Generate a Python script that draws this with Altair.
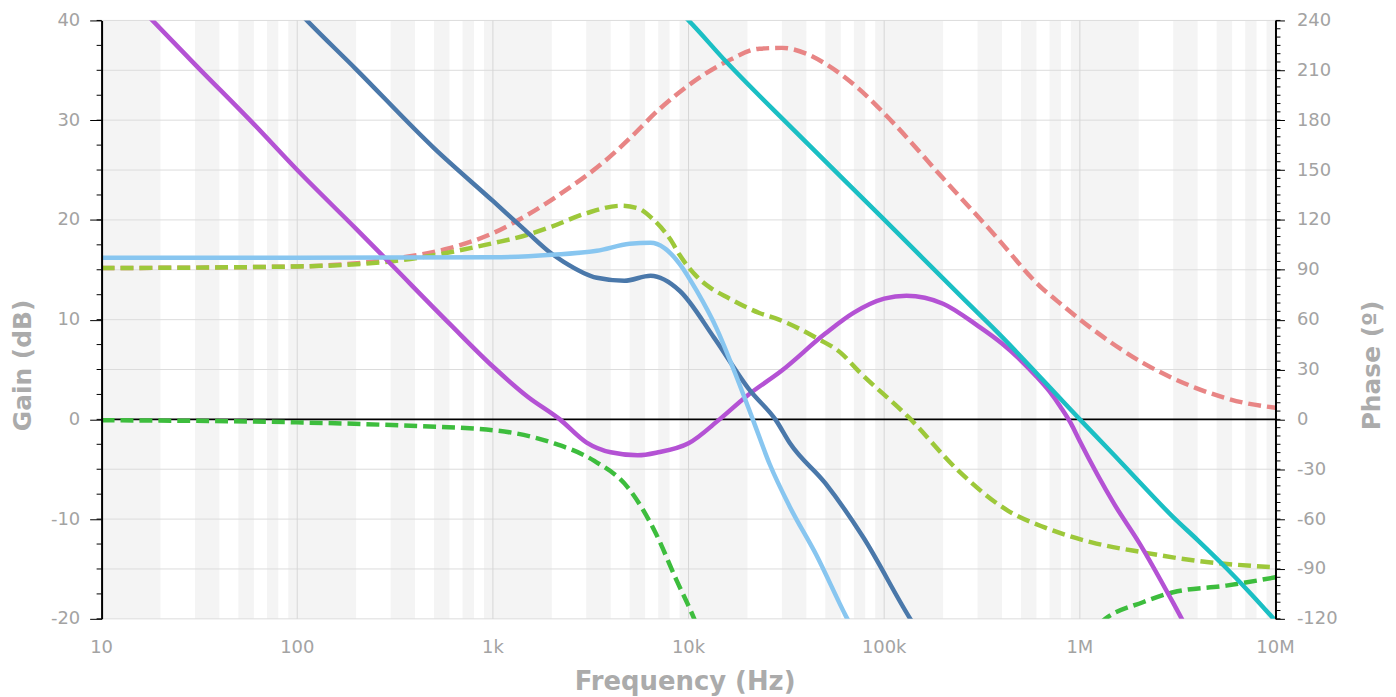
import altair as alt
import pandas as pd

# ---------------- data ----------------
# Gain curves (dB) vs frequency (Hz)
mag_f = [10, 18.2, 30, 60, 100, 200, 300, 600, 1000, 1500, 2200, 3000, 4000, 5500, 7000,
         10000, 14400, 20000, 30000, 50000, 70000, 100000, 130000, 200000, 300000, 400000,
         500000, 600000, 700000, 800000, 900000, 1000000, 1500000, 2000000, 3000000, 4000000]
mag_g = [45.2, 40, 35.6, 29.6, 25.0, 19.1, 15.6, 9.6, 5.3, 2.3, 0, -2.3, -3.3, -3.6, -3.3,
         -2.4, 0, 2.4, 4.9, 8.6, 10.7, 12.1, 12.4, 11.6, 9.4, 7.6,
         5.9, 4.3, 2.8, 1.2, -0.4, -2.2, -8.5, -12.3, -18.4, -23]

dblue_f = [100, 112, 200, 500, 1000, 1455, 2000, 2300, 3400, 4700, 6400, 9000, 13500, 20600,
           28000, 33000, 50000, 78000, 134000, 200000]
dblue_g = [41, 40, 35.1, 27.2, 21.9, 19.0, 16.6, 15.8, 14.2, 13.9, 14.4, 12.9, 8.2, 2.9,
           -0.1, -2.4, -6.4, -11.8, -19.8, -25]

lblue_f = [10, 100, 1000, 2000, 3400, 5000, 6400, 7500, 9000, 11000, 14000, 17000, 21300,
           26000, 33000, 45000, 64000, 90000]
lblue_g = [16.2, 16.2, 16.25, 16.5, 16.9, 17.6, 17.7, 17.2, 15.6, 12.9, 9.0, 5.0, 0,
           -4.5, -8.8, -13.6, -19.8, -25]

cyan_f = [9000, 10000, 15500, 35000, 98000, 260000, 372000, 1000000, 1500000, 2000000,
          3000000, 4000000, 5600000, 7500000, 10000000]
cyan_g = [40.9, 40, 35.9, 28.9, 20.2, 11.9, 8.9, 0, -3.6, -6.2,
          -9.8, -12.1, -14.9, -17.5, -20.2]

# Phase curves (degrees) vs frequency (Hz)
ph1_f = [10, 100, 326, 600, 1000, 1500, 2300, 3700, 5000, 7000, 10000, 15500, 23000, 30000,
         40000, 50000, 74000, 110000, 200000, 360000, 640000, 770000, 1200000, 2100000,
         3900000, 6900000, 10000000]
ph1_p = [91, 92, 97, 103, 112, 123, 137, 155, 169, 186, 201, 215, 223, 223.5,
         220, 214, 199, 179, 145, 112, 79, 71, 53, 34,
         19, 10, 7]

ph2_f = [10, 100, 300, 1000, 1500, 2000, 3000, 4500, 5500, 6500, 8100, 9000, 11000, 13000,
         16000, 23000, 29000, 45000, 60000, 74000, 134000, 240000, 430000, 660000, 1150000,
         2100000, 3900000, 10000000]
ph2_p = [91, 92, 95, 106, 111, 116, 124, 128.5, 127, 121, 108, 99, 86, 79,
         73, 64, 60, 49, 40, 29, 1, -31, -55, -65, -74,
         -80, -85, -89]

ph3_f = [10, 100, 330, 1020, 2000, 3300, 4900, 6700, 8700, 10600, 12000, 30000, 100000,
         400000, 1000000, 1350000, 2100000, 3000000, 5600000, 10000000]
ph3_p = [-0.5, -1.8, -3.6, -6.6, -14, -25, -41, -67, -97, -119, -135, -220, -260,
         -200, -135, -120, -110, -104, -100, -95]

series_names = ["mag", "dblue", "lblue", "cyan", "ph_salmon", "ph_yg", "ph_green"]
series_colors = ["#b452d4", "#4a78aa", "#88c6f0", "#1bbfc4", "#e88585", "#9dc83a", "#3dbd3d"]

x_tick_values = [10, 100, 1000, 10000, 100000, 1000000, 10000000]
x_tick_labels = ["10", "100", "1k", "10k", "100k", "1M", "10M"]
gain_ticks = [-20, -10, 0, 10, 20, 30, 40]
phase_ticks = [-120, -90, -60, -30, 0, 30, 60, 90, 120, 150, 180, 210, 240]
gain_grid = [-20, -15, -10, -5, 5, 10, 15, 20, 25, 30, 35, 40]
gain_minor = [v / 2 for v in range(-40, 81, 5)]
phase_minor = list(range(-120, 241, 5))
stripe_mult = [1, 3, 5, 7, 9]

# ---------------- tables ----------------
def rows(name, fs, vs):
    return [{"s": name, "f": f, "v": v, "i": k} for k, (f, v) in enumerate(zip(fs, vs))]

gain_df = pd.DataFrame(rows("mag", mag_f, mag_g) + rows("dblue", dblue_f, dblue_g)
                       + rows("lblue", lblue_f, lblue_g) + rows("cyan", cyan_f, cyan_g))
phase_df = pd.DataFrame(rows("ph_salmon", ph1_f, ph1_p) + rows("ph_yg", ph2_f, ph2_p)
                        + rows("ph_green", ph3_f, ph3_p))
stripe_df = pd.DataFrame([{"lo": d * m, "hi": d * (m + 1)}
                          for d in x_tick_values[:-1] for m in stripe_mult])
vgrid_df = pd.DataFrame({"f": x_tick_values, "lab": x_tick_labels})
hgrid_df = pd.DataFrame({"v": gain_grid})
gminor_df = pd.DataFrame({"v": gain_minor})
pminor_df = pd.DataFrame({"v": phase_minor})
zero_df = pd.DataFrame({"v": [0]})

# ---------------- styling ----------------
W, H = 1179, 601
FONT = "DejaVu Sans"
LABEL_C = "#a3a3a3"
TITLE_C = "#ababab"
LW = 4.5

x_scale = alt.Scale(type="log", domain=[10, 1e7], nice=False)
g_scale = alt.Scale(domain=[-20, 40], nice=False, zero=False)
p_scale = alt.Scale(domain=[-120, 240], nice=False, zero=False)
c_scale = alt.Scale(domain=series_names, range=series_colors)

left_axis = alt.Axis(values=gain_ticks, orient="left", grid=False, domainColor="black",
                     domainWidth=2, tickColor="black", tickSize=12, tickWidth=1,
                     labelPadding=10, labelColor=LABEL_C, labelFont=FONT, labelFontSize=18,
                     labelFlush=False, labelOverlap=False, labelExpr="'' + datum.value",
                     title="Gain (dB)", titleColor=TITLE_C, titleFont=FONT, titleFontSize=25,
                     titleFontWeight="bold", titleAngle=270, titleX=-79, titleY=346,
                     titleAlign="center", titleBaseline="middle", zindex=1)

right_axis = alt.Axis(values=phase_ticks, orient="right", grid=False, domainColor="black",
                      domainWidth=2, tickColor="black", tickSize=9, tickWidth=1,
                      labelPadding=12, labelColor=LABEL_C, labelFont=FONT, labelFontSize=18,
                      labelFlush=False, labelOverlap=False, labelExpr="'' + datum.value",
                      title="Phase (º)", titleColor=TITLE_C, titleFont=FONT, titleFontSize=25,
                      titleFontWeight="bold", titleAngle=270, titleX=96, titleY=346,
                      titleAlign="center", titleBaseline="middle", zindex=1)

# ---------------- layers ----------------
stripes = alt.Chart(stripe_df).mark_rect(color="#f4f4f4").encode(
    x=alt.X("lo:Q", scale=x_scale, axis=None), x2="hi:Q",
    y=alt.value(0), y2=alt.value(H))

hgrid = alt.Chart(hgrid_df).mark_rule(color="#dcdcdc", strokeWidth=1).encode(
    y=alt.Y("v:Q", scale=g_scale, axis=None))

vgrid = alt.Chart(vgrid_df).mark_rule(color="#d6d6d6", strokeWidth=1).encode(
    x=alt.X("f:Q", scale=x_scale, axis=None))

# frequency tick labels, placed by the x scale below the plot area
xlabels = alt.Chart(vgrid_df).mark_text(
    font=FONT, fontSize=18, color=LABEL_C, baseline="middle", align="center", clip=False
).encode(
    x=alt.X("f:Q", scale=x_scale, axis=None),
    y=alt.value(H + 29),
    text="lab:N")

xtitle = alt.Chart(pd.DataFrame({"t": ["Frequency (Hz)"]})).mark_text(
    font=FONT, fontSize=26, fontWeight="bold", color=TITLE_C, baseline="middle",
    align="center", clip=False
).encode(x=alt.value(586), y=alt.value(H + 63), text="t:N")

zero = alt.Chart(zero_df).mark_rule(color="black", strokeWidth=2).encode(
    y=alt.Y("v:Q", scale=g_scale, axis=None))

gain_lines = alt.Chart(gain_df).mark_line(strokeWidth=LW, clip=True, interpolate="monotone").encode(
    x=alt.X("f:Q", scale=x_scale, axis=None),
    y=alt.Y("v:Q", scale=g_scale, axis=left_axis),
    color=alt.Color("s:N", scale=c_scale, legend=None),
    order="i:Q")

phase_lines = alt.Chart(phase_df).mark_line(strokeWidth=LW, strokeDash=[13, 6], clip=True,
                                            interpolate="monotone").encode(
    x=alt.X("f:Q", scale=x_scale, axis=None),
    y=alt.Y("v:Q", scale=p_scale, axis=right_axis),
    color=alt.Color("s:N", scale=c_scale, legend=None),
    order="i:Q")

gminor = alt.Chart(gminor_df).mark_rule(color="black", strokeWidth=1).encode(
    x=alt.value(-5), x2=alt.value(0), y=alt.Y("v:Q", scale=g_scale, axis=None))

pminor = alt.Chart(pminor_df).mark_rule(color="black", strokeWidth=1).encode(
    x=alt.value(W), x2=alt.value(W + 5), y=alt.Y("v:Q", scale=p_scale, axis=None))

chart = alt.layer(stripes, hgrid, vgrid, zero, phase_lines, gain_lines, gminor, pminor,
                  xlabels, xtitle).resolve_scale(
    y="independent"
).properties(
    width=W, height=H,
    padding={"left": 94, "top": 11, "right": 113, "bottom": 77},
    autosize=alt.AutoSizeParams(type="none"),
    background="white",
).configure_view(stroke=None)

chart.save("out.html", embed_options={"renderer": "svg", "actions": False})
